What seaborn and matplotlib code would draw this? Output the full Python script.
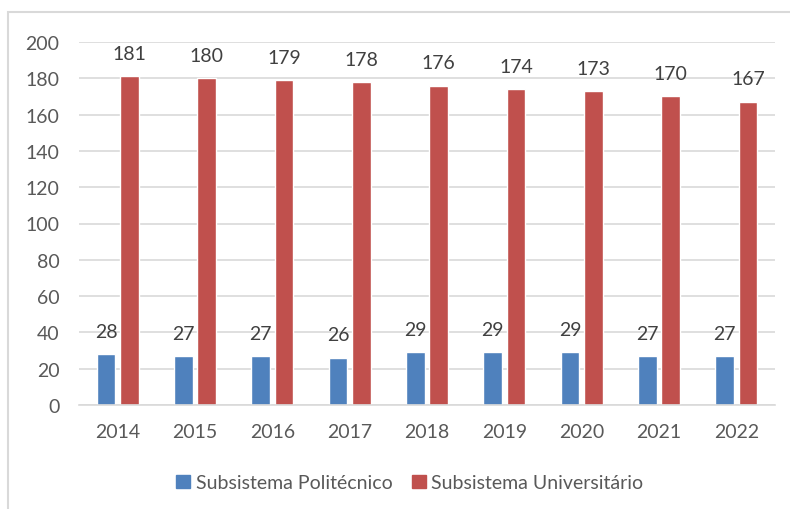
import pandas as pd
import matplotlib.pyplot as plt
import seaborn as sns
from matplotlib.patches import Rectangle

years = ['2014', '2015', '2016', '2017', '2018', '2019', '2020', '2021', '2022']
politecnico = [28, 27, 27, 26, 29, 29, 29, 27, 27]
universitario = [181, 180, 179, 178, 176, 174, 173, 170, 167]
series_names = ['Subsistema Politécnico', 'Subsistema Universitário']
colors = ['#4F81BD', '#C0504D']

df = pd.DataFrame({
    'ano': years * 2,
    'valor': politecnico + universitario,
    'serie': [series_names[0]] * len(years) + [series_names[1]] * len(years),
})

sns.set_style('white')
plt.rcParams['font.family'] = ['Lato', 'DejaVu Sans']

fig = plt.figure(figsize=(7.9, 5.1), dpi=100)
ax = fig.add_axes([79 / 790, 104 / 510, 696 / 790, 363 / 510])

sns.barplot(data=df, x='ano', y='valor', hue='serie', palette=colors,
            width=0.6, gap=0.2, ax=ax, legend=False, saturation=1)

# value labels above each bar
for container in ax.containers:
    for bar in container:
        h = bar.get_height()
        ax.annotate(f'{h:.0f}', (bar.get_x() + bar.get_width() / 2, h),
                    xytext=(0, 16.5), textcoords='offset points',
                    ha='center', va='center', fontsize=14, color='#404040')

ax.set_ylim(0, 200)
ax.set_yticks(range(0, 201, 20))
ax.set_xlim(-0.5, len(years) - 0.5)
ax.grid(axis='y', color='#D9D9D9', linewidth=1.2)
ax.set_axisbelow(True)
for s in ['left', 'right', 'top']:
    ax.spines[s].set_visible(False)
ax.spines['bottom'].set_color('#D9D9D9')
ax.spines['bottom'].set_linewidth(1.2)
ax.tick_params(axis='both', length=0, labelsize=14, labelcolor='#595959')
ax.tick_params(axis='y', pad=14)
ax.tick_params(axis='x', pad=13)
ax.set_xlabel('')
ax.set_ylabel('')

handles = [Rectangle((0, 0), 1, 1, color=c) for c in colors]
fig.legend(handles, series_names, loc='center', bbox_to_anchor=(0.519, 0.051),
           ncol=2, frameon=False, fontsize=14, labelcolor='#595959',
           handlelength=0.7, handleheight=0.7, handletextpad=0.3, columnspacing=1.0)

# light chart border
fig.patches.append(Rectangle((8 / 790, -0.1), 1.1, (497 / 510) + 0.1,
                             transform=fig.transFigure, fill=False,
                             edgecolor='#D9D9D9', linewidth=1.5))

fig.savefig('out.png', dpi=100)
